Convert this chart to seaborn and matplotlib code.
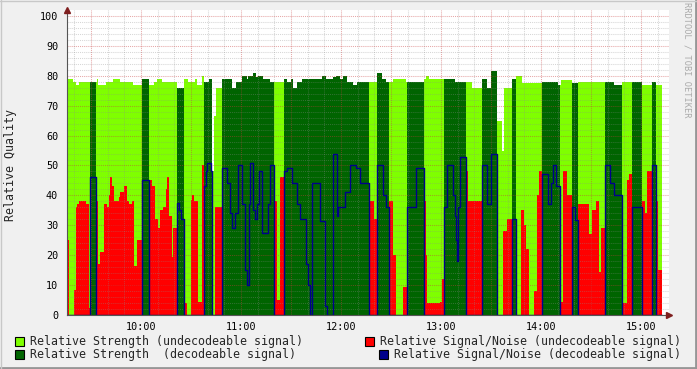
import numpy as np
import pandas as pd
import matplotlib
matplotlib.use("Agg")
import matplotlib.pyplot as plt
from matplotlib.patches import Rectangle
from matplotlib.lines import Line2D
from matplotlib.ticker import MultipleLocator, FixedLocator, FuncFormatter
import seaborn as sns

# all times are minutes after 09:00, values hold until the next reading
strength_minute = [15.6, 19.2, 21.0, 22.8, 33.6, 34.2, 39.0, 43.2, 47.4, 55.2, 60.6, 64.8, 67.8, 69.6,
                   72.6, 81.6, 85.8, 88.2, 92.4, 93.6, 96.6, 97.8, 100.8, 102.6, 103.8, 105.0, 108.6,
                   114.6, 117.0, 120.6, 123.6, 124.2, 127.2, 129.0, 130.2, 133.2, 137.4, 145.8, 147.6,
                   150.0, 151.2, 153.6, 156.6, 168.6, 171.0, 175.2, 177.0, 179.4, 181.2, 183.6, 187.2,
                   189.6, 201.6, 204.6, 207.0, 211.2, 219.0, 229.8, 231.0, 232.8, 248.4, 258.6, 264.6,
                   267.6, 270.0, 273.6, 276.6, 277.8, 282.6, 285.0, 288.6, 300.6, 310.2, 312.0, 318.6,
                   322.2, 343.8, 348.6, 360.6, 366.6, 369.0]
strength_value = [79, 78, 77, 78, 79, 77, 78, 79, 78, 77, 79, 77, 78, 79,
                  78, 76, 79, 78, 79, 77, 80, 78, 79, 48, 66.6, 76, 79,
                  76, 78, 80, 79, 80, 81, 79.5, 80, 79, 78, 79, 78,
                  79, 76, 78, 79, 80, 79, 79.5, 80, 79, 80, 78, 77,
                  78, 81, 79, 78, 79, 78, 79, 80, 79, 78, 76, 79,
                  76, 81.5, 65, 55, 76, 79, 80, 77.5, 78, 77, 78.5, 77.5,
                  78, 77, 78, 77, 78, 77]

snr_minute = [15.6, 16.8, 19.8, 21.0, 21.6, 22.8, 26.8, 28.6,
              29.4,
              33.0, 34.2, 35.4, 37.5, 39.6, 40.6, 41.6, 42.6, 43.6, 46.6, 47.6, 49.6, 51.6, 52.6, 54.6, 55.5, 57.4,
              60.6,
              64.8, 66.3, 68.4, 70.2, 71.4, 73.2, 75.0, 75.6, 76.8, 78.4, 79.4,
              81.6, 82.8, 84.0,
              85.8, 87.6, 89.7, 90.6, 91.8, 94.4, 96.4,
              97.8, 98.7, 99.6, 102.0,
              102.6, 104.4,
              108.6, 111.6, 113.4, 114.4, 116.4, 118.2, 120.6, 122.4, 123.6, 124.8, 125.4, 127.2, 128.4,
              129.6, 130.8, 132.6, 136.2, 137.4,
              139.8, 141.6, 143.4,
              145.8, 147.6, 150.6, 153.6, 155.4, 159.0, 160.2, 161.4, 162.6, 167.4, 170.4, 171.6, 175.2,
              177.6, 178.2, 182.4, 185.4, 189.0, 191.4,
              196.8, 199.8,
              201.6, 205.2, 207.0,
              208.8, 211.2, 213.0, 217.2,
              219.6, 225.0,
              229.8, 231.0, 231.6, 239.4, 240.6,
              241.8, 243.6, 247.2, 248.4, 249.0, 249.6, 250.2, 251.4,
              255.0, 256.2,
              264.6, 267.6, 270.0,
              273.6, 277.2, 279.6,
              282.6,
              285.0, 288.0, 289.8, 291.0, 292.8, 295.8, 297.6, 298.8,
              300.6, 304.2, 306.0, 307.2, 309.0,
              311.4, 313.2, 315.6,
              318.6, 320.4,
              322.2, 328.8, 330.6, 333.0, 334.8, 336.0,
              338.4, 341.4, 343.8,
              348.6, 351.6, 352.8,
              354.6,
              360.6, 362.4, 363.6,
              366.6,
              369.0, 370.2]
snr_value = [25, 0, 8.4, 36, 37, 38, 37, 2.5,
             46,
             38, 17, 21, 37, 36, 40, 46, 43, 38, 39.4, 41, 43, 38, 37, 38, 16.5, 25,
             45,
             45, 43, 32, 29, 35, 36, 42, 46, 33, 19.5, 29,
             37.4, 35, 32,
             4, 0, 38.5, 40, 38, 4.5, 50,
             43, 48, 51, 48,
             0, 36,
             49, 44, 34, 29, 34, 50, 37, 15, 10, 37, 50.7, 35, 32,
             37, 48, 27.3, 37, 50,
             38, 5, 46,
             48, 49, 44, 37, 32, 17, 10, 0, 44, 31.6, 3, 0, 54,
             33, 36, 41, 50, 49, 44,
             38, 32,
             50, 40, 36,
             38, 20, 0, 9.5,
             36, 49,
             38, 20, 4, 4.5, 12,
             36, 50, 40, 33, 25, 18, 36, 53,
             48, 38,
             50, 37, 54,
             0, 28, 32,
             32,
             0, 35, 30, 22, 0, 8, 40, 48,
             47, 37, 44, 50, 43,
             4.5, 48, 40,
             36, 31.8,
             37, 27, 35, 38, 14.5, 29,
             50, 44, 40,
             4, 45, 47,
             36,
             38, 34, 48,
             50,
             38, 15]

# periods where the signal could be decoded
decoded_start = [29.4, 60.6, 81.6, 97.8, 108.6, 145.8, 201.6, 219.6, 241.8, 264.6, 282.6, 300.6, 318.6,
                 338.4, 354.6, 366.6]
decoded_end = [33.0, 64.8, 85.8, 102.6, 139.8, 196.8, 208.8, 229.8, 255.0, 273.6, 285.0, 311.4, 322.2,
               348.6, 360.6, 369.0]
last_minute = 372.6

hour_labels = ["10:00", "11:00", "12:00", "13:00", "14:00", "15:00"]
legend_labels = ["Relative Strength (undecodeable signal)",
                 "Relative Strength  (decodeable signal)",
                 "Relative Signal/Noise (undecodeable signal)",
                 "Relative Signal/Noise (decodeable signal)"]

LIGHT = "#7FFF00"
DARK = "#006400"
RED = "#FF0000"
BLUE = "#00008C"

sns.set_style("white")
plt.rcParams["font.family"] = ["DejaVu Sans Mono", "DejaVu Sans"]

# put both series on one step grid
minute = np.unique(np.concatenate([strength_minute, snr_minute, decoded_start, decoded_end, [last_minute]]))


def hold(t, times, values):
    idx = np.searchsorted(times, t, side="right") - 1
    return np.asarray(values, dtype=float)[idx]


strength = hold(minute, strength_minute, strength_value)
snr = hold(minute, snr_minute, snr_value)
decoded = np.zeros(len(minute), dtype=bool)
for s, e in zip(decoded_start, decoded_end):
    decoded |= (minute >= s) & (minute < e)

df = pd.DataFrame({"minute": minute,
                   "strength_undec": np.where(decoded, 0, strength),
                   "strength_dec": np.where(decoded, strength, 0),
                   "snr_undec": np.where(decoded, 0, snr),
                   "snr_dec": np.where(decoded, snr, 0)})

W, H = 697, 369
fig = plt.figure(figsize=(W / 100, H / 100), dpi=100)
fig.patch.set_facecolor("#F0F0F0")
ax = fig.add_axes([67 / W, 54 / H, 602 / W, 305 / H])
ax.set_facecolor("white")

ax.fill_between(df["minute"], 0, df["strength_undec"], step="post", color=LIGHT, lw=0, zorder=1)
ax.fill_between(df["minute"], 0, df["strength_dec"], step="post", color=DARK, lw=0, zorder=1)
ax.fill_between(df["minute"], 0, df["snr_undec"], step="post", color=RED, lw=0, zorder=1.1)
sns.lineplot(data=df, x="minute", y="snr_dec", estimator=None, drawstyle="steps-post",
             color=BLUE, lw=1.0, ax=ax, legend=False, zorder=3)

ax.set_xlim(15.6, 376.8)
ax.set_ylim(0, 102)

# grid like rrdtool: dotted, drawn over the areas
ax.xaxis.set_major_locator(FixedLocator(np.arange(30, 371, 30)))
ax.xaxis.set_minor_locator(MultipleLocator(10))
ax.yaxis.set_major_locator(FixedLocator(np.arange(0, 101, 10)))
ax.yaxis.set_minor_locator(FixedLocator(np.arange(0, 101, 2)))
ax.xaxis.set_major_formatter(FuncFormatter(
    lambda v, p: hour_labels[int(v // 60) - 1] if v % 60 == 0 and 60 <= v <= 360 else ""))
ax.set_axisbelow(False)
ax.grid(which="minor", color="#8C8C8C", alpha=0.35, ls=(0, (1, 1)), lw=0.75, zorder=2)
ax.grid(which="major", color="#C83C3C", alpha=0.45, ls=(0, (1, 1)), lw=0.75, zorder=2)

ax.tick_params(axis="both", which="both", length=2, width=0.7, color="#C08080",
               labelsize=7.3, labelcolor="black")
ax.tick_params(axis="y", pad=4.3)
ax.tick_params(axis="x", pad=3)
ax.set_xlabel("")
ax.set_ylabel("")

for side in ["top", "right"]:
    ax.spines[side].set_visible(False)
for side in ["left", "bottom"]:
    ax.spines[side].set_color("#555555")
    ax.spines[side].set_linewidth(0.8)
    ax.spines[side].set_zorder(4)

# axis arrows
ax.plot([0], [1.0], marker="^", color="#7F1F1F", ms=5, transform=ax.transAxes, clip_on=False, zorder=5)
ax.plot([1.0], [0], marker=">", color="#7F1F1F", ms=5, transform=ax.transAxes, clip_on=False, zorder=5)

fig.text(11 / W, 1 - 165 / H, "Relative Quality", rotation=90, ha="center", va="center", fontsize=8.4)
fig.text(687 / W, 1 - 60 / H, "RRDTOOL / TOBI OETIKER", rotation=270, ha="center", va="center",
         fontsize=6.2, color="#AAAAAA")

# legend
legend_pos = [(15, 341.5, 30), (15, 354.5, 30), (365, 341.5, 380), (379, 354.5, 394)]
for (bx, by, tx), col, text in zip(legend_pos, [LIGHT, DARK, RED, BLUE], legend_labels):
    fig.add_artist(Rectangle((bx / W, 1 - (by + 4.5) / H), 9 / W, 9 / H, transform=fig.transFigure,
                             facecolor=col, edgecolor="black", lw=0.8))
    fig.text(tx / W, 1 - by / H, text, ha="left", va="center", fontsize=8.38)

# frame shading
fig.add_artist(Line2D([0, 1], [1 - 367.5 / H] * 2, transform=fig.transFigure, color="#969696", lw=2))
fig.add_artist(Line2D([1 - 1.5 / W] * 2, [0, 1], transform=fig.transFigure, color="#969696", lw=2))
fig.add_artist(Line2D([0, 1], [1 - 0.5 / H] * 2, transform=fig.transFigure, color="#C8C8C8", lw=1))
fig.add_artist(Line2D([0.5 / W] * 2, [0, 1], transform=fig.transFigure, color="#C8C8C8", lw=1))

fig.savefig("out.png", dpi=100, facecolor=fig.get_facecolor())
